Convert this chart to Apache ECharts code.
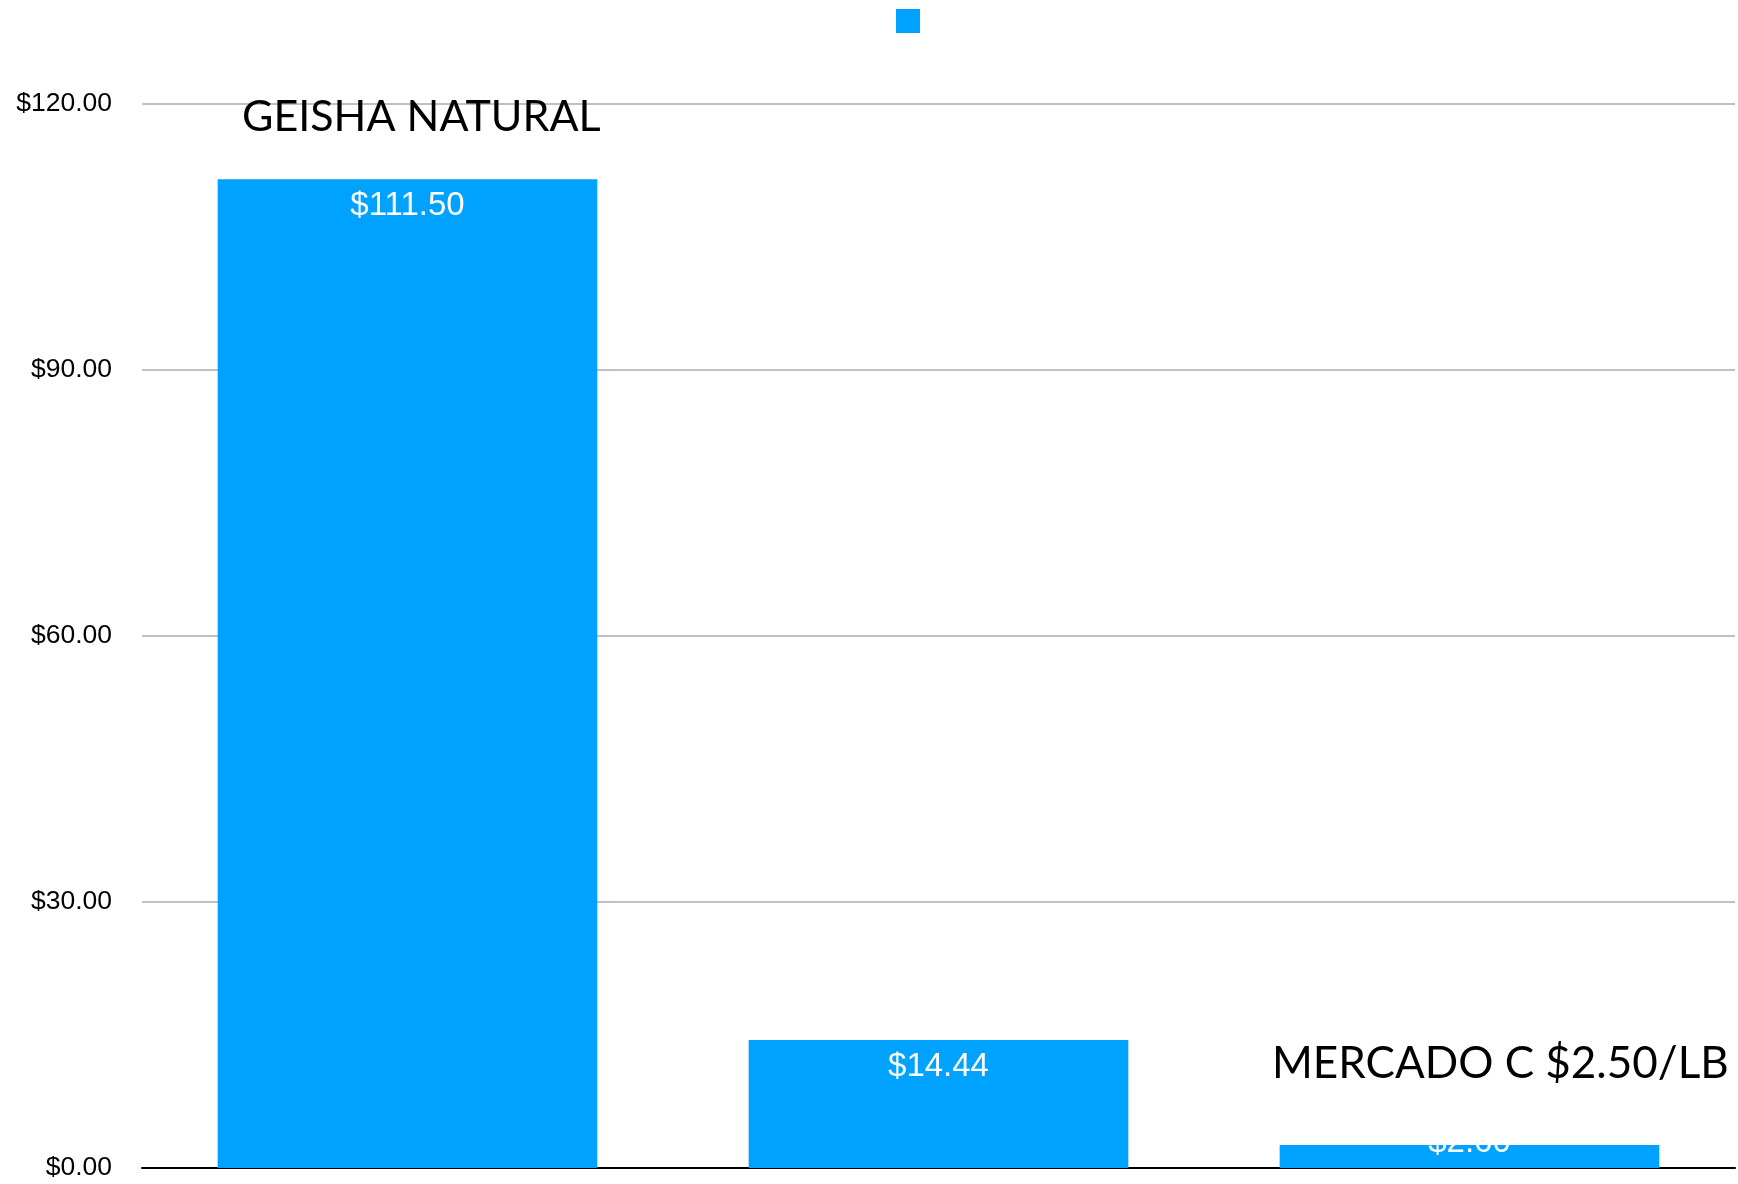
<!DOCTYPE html>
<html>
<head>
<meta charset="utf-8">
<script src="https://cdn.jsdelivr.net/npm/echarts@6/dist/echarts.min.js"></script>
<style>
html,body{margin:0;padding:0;background:#fff;}
#chart{width:1738px;height:1184px;}
</style>
</head>
<body>
<div id="chart"></div>
<script>
const categories = ['Geisha Natural', 'Café B', 'Mercado C'];
const prices = [111.50, 14.44, 2.60];
const seriesName = 'Precio';
const yTicks = { min: 0, max: 120, interval: 30 };
const annotations = ['GEISHA NATURAL', 'MERCADO C $2.50/LB'];

const chart = echarts.init(document.getElementById('chart'), null, { renderer: 'canvas' });
const fmt = v => '$' + Number(v).toFixed(2);

chart.setOption({
  animation: false,
  backgroundColor: '#ffffff',
  legend: {
    data: [seriesName],
    left: 891,
    top: 4,
    icon: 'rect',
    itemWidth: 24,
    itemHeight: 24,
    formatter: () => '',
    textStyle: { fontSize: 1 }
  },
  grid: { left: 142, right: 3, top: 104, bottom: 16, containLabel: false },
  xAxis: {
    type: 'category',
    data: categories,
    axisLine: { show: true, lineStyle: { color: '#000000', width: 2 } },
    axisTick: { show: false },
    axisLabel: { show: false },
    splitLine: { show: false }
  },
  yAxis: {
    type: 'value',
    min: yTicks.min,
    max: yTicks.max,
    interval: yTicks.interval,
    axisLine: { show: false },
    axisTick: { show: false },
    axisLabel: {
      formatter: fmt,
      color: '#000000',
      fontFamily: 'Liberation Sans',
      fontSize: 26.5,
      margin: 30
    },
    splitLine: { lineStyle: { color: '#c0c0c0', width: 2 } }
  },
  series: [{
    name: seriesName,
    type: 'bar',
    barWidth: '71.5%',
    itemStyle: { color: '#00A2FF' },
    label: {
      show: true,
      position: 'insideTop',
      distance: 10,
      color: '#ffffff',
      fontFamily: 'Liberation Sans',
      fontSize: 33,
      formatter: p => fmt(p.value)
    },
    data: prices.map((v, i) => i === prices.length - 1
      ? { value: v, label: { position: 'top', distance: -14 } }
      : v)
  }],
  graphic: [
    {
      type: 'text', left: 242, top: 96, z: 100,
      style: { text: annotations[0], font: '43px Lato', fill: '#000000' }
    },
    {
      type: 'text', left: 1272, top: 1042, z: 100,
      style: { text: annotations[1], font: '44px Lato', fill: '#000000' }
    }
  ]
});
</script>
</body>
</html>
